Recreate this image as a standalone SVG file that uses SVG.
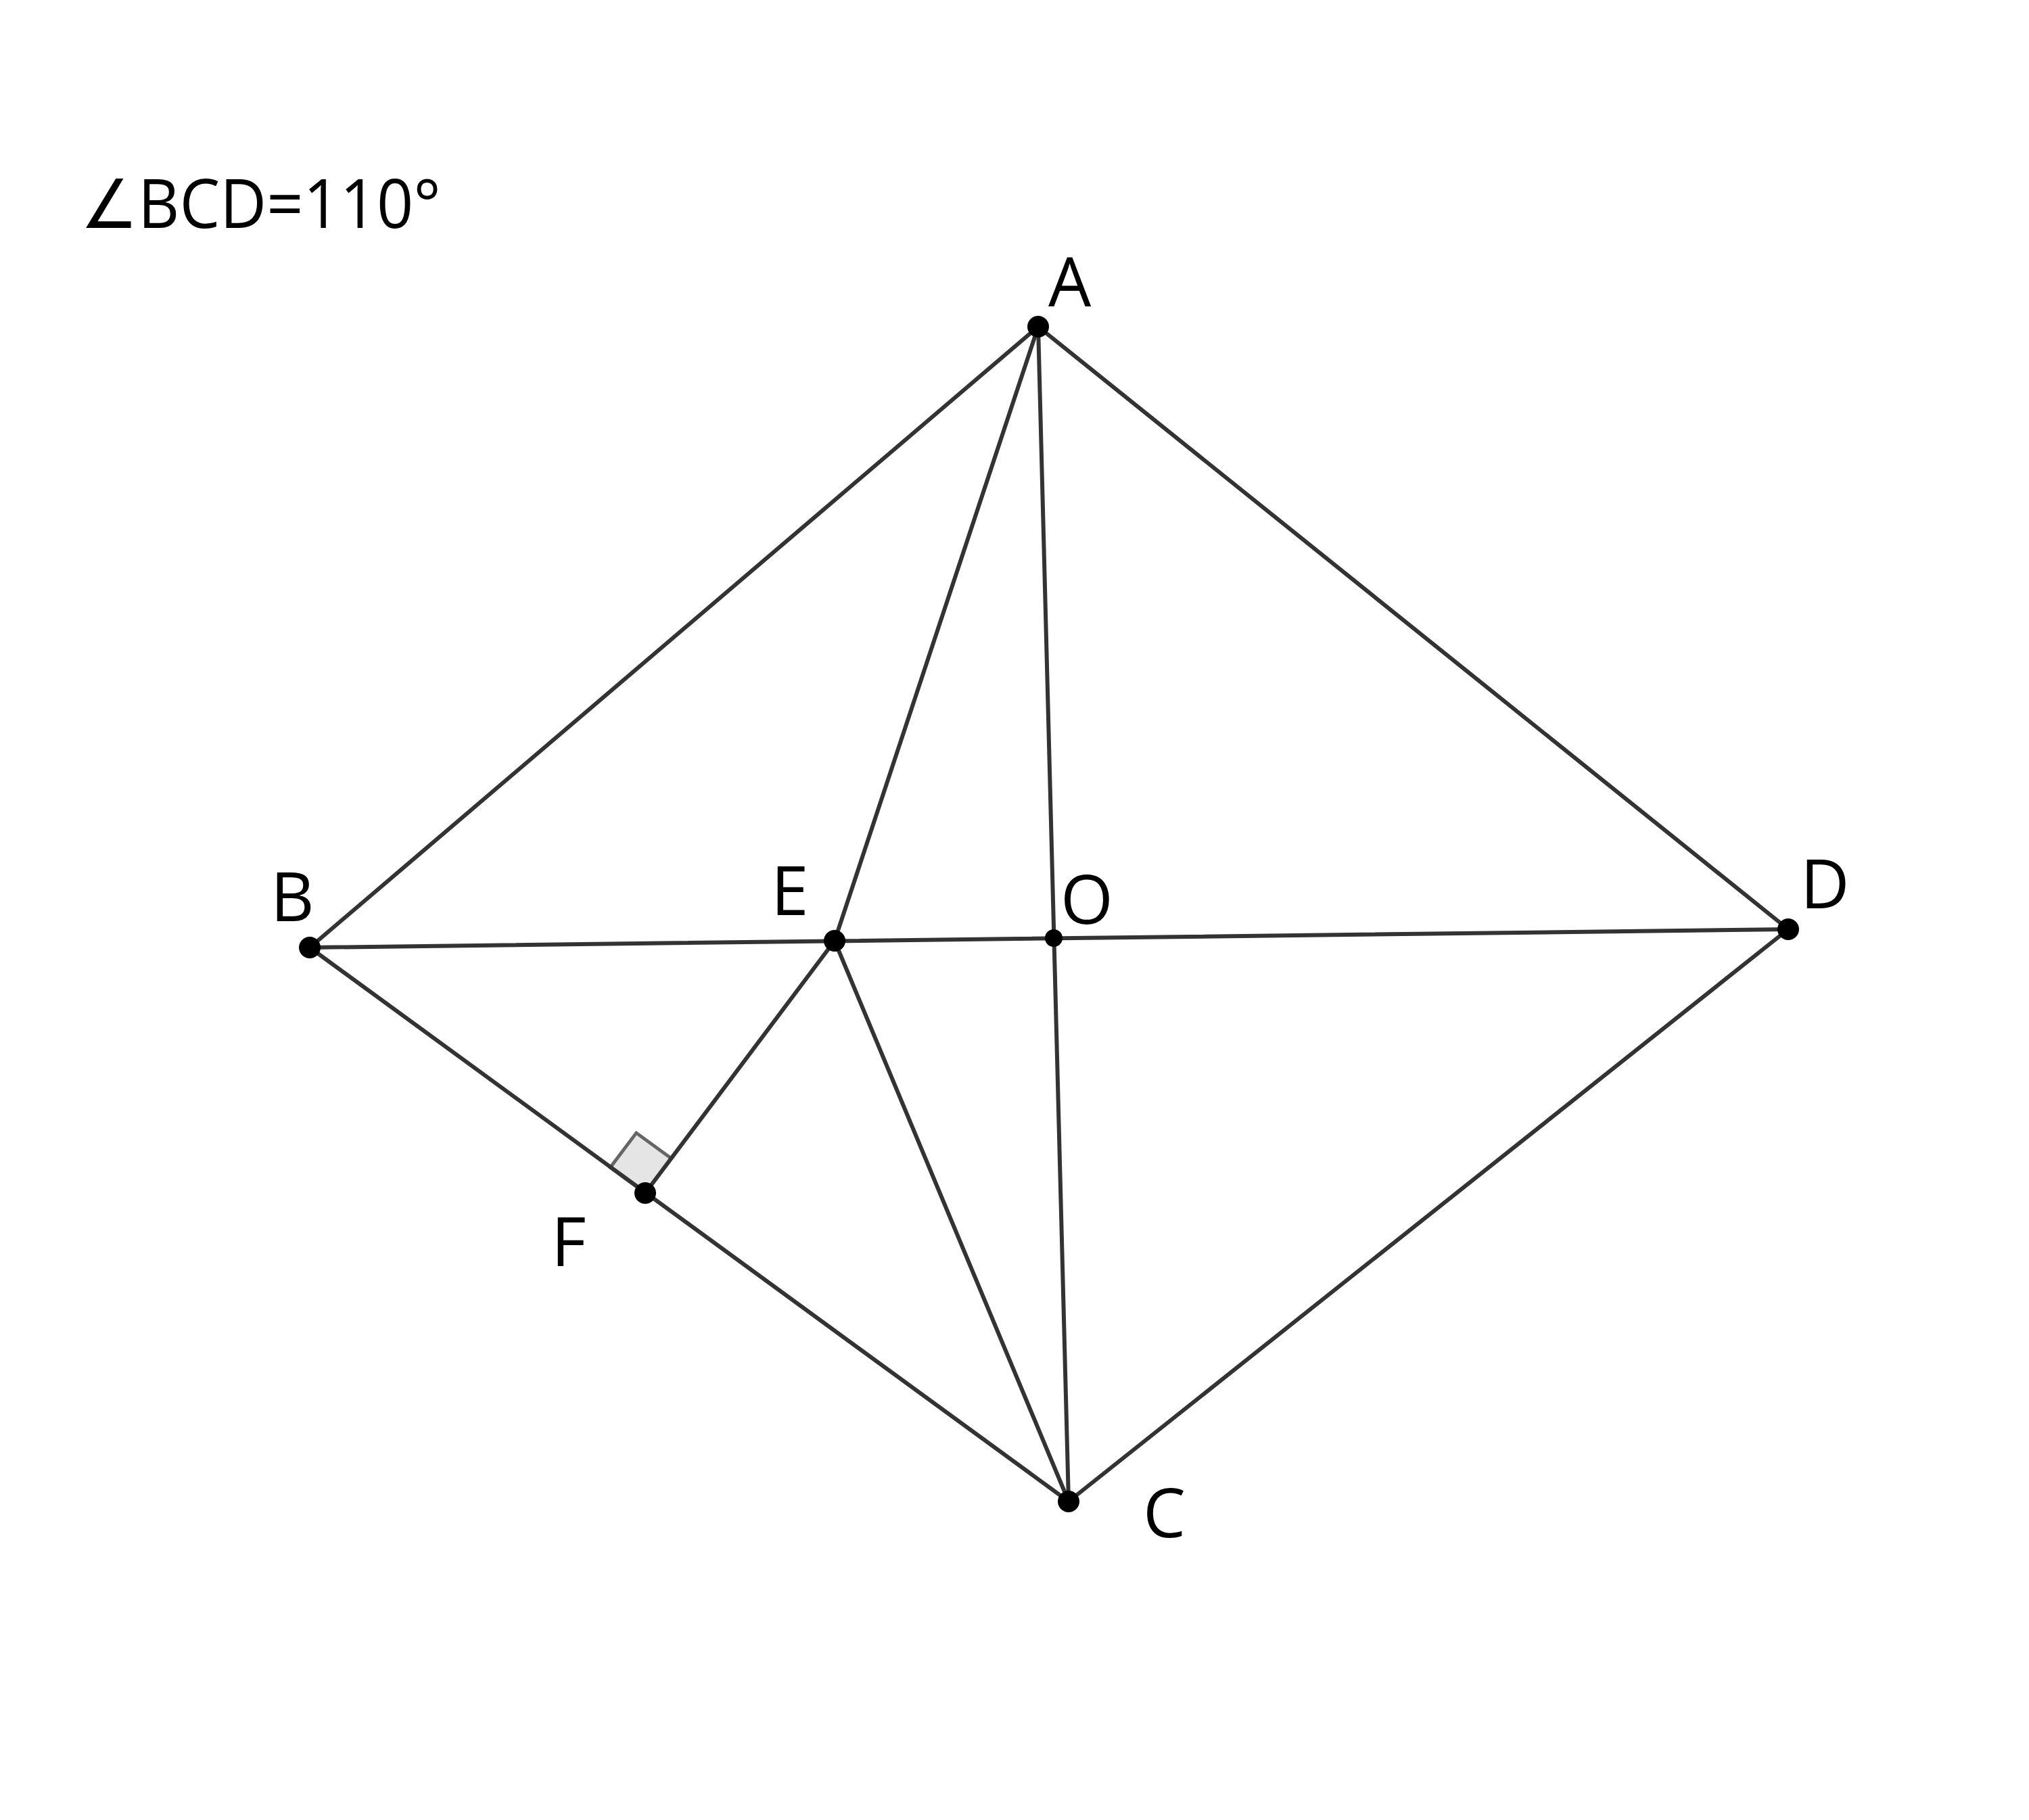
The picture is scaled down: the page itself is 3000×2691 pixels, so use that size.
<svg xmlns="http://www.w3.org/2000/svg" width="3000" height="2691" viewBox="0 0 3000 2691">
<style>
.ln{stroke:#333333;stroke-width:6;fill:none;stroke-linecap:round}
.pt{fill:#000000}
.lb{font-family:"Open Sans","Noto Sans","DejaVu Sans",sans-serif;font-size:100px;fill:#000000}
.ra{fill:#e5e5e5;stroke:#666666;stroke-width:5;stroke-linejoin:miter}
</style>
<rect x="0" y="0" width="3000" height="2691" fill="#ffffff"/>
<text class="lb" x="119" y="337" textLength="533" lengthAdjust="spacingAndGlyphs">∠BCD=110°</text>
<g id="right-angle">
<polygon class="ra" points="954,1764 902.3,1726.3 940.8,1675.1 992.5,1712.8"/>
</g>
<g id="connectors">
<line class="ln" x1="1535" y1="483" x2="458" y2="1401"/>
<line class="ln" x1="1535" y1="483" x2="2644" y2="1374"/>
<line class="ln" x1="458" y1="1401" x2="2644" y2="1374"/>
<line class="ln" x1="458" y1="1401" x2="1580" y2="2220"/>
<line class="ln" x1="2644" y1="1374" x2="1580" y2="2220"/>
<line class="ln" x1="1535" y1="483" x2="1234" y2="1391"/>
<line class="ln" x1="1535" y1="483" x2="1580" y2="2220"/>
<line class="ln" x1="1234" y1="1391" x2="1580" y2="2220"/>
<line class="ln" x1="1234" y1="1391" x2="954" y2="1764"/>
</g>
<g id="node-A"><circle class="pt" cx="1535" cy="483" r="16"/><text class="lb" x="1550" y="453">A</text></g>
<g id="node-B"><circle class="pt" cx="458" cy="1401" r="16"/><text class="lb" x="400" y="1362">B</text></g>
<g id="node-D"><circle class="pt" cx="2644" cy="1374" r="16"/><text class="lb" x="2662" y="1343">D</text></g>
<g id="node-C"><circle class="pt" cx="1580" cy="2220" r="16"/><text class="lb" x="1690" y="2273">C</text></g>
<g id="node-E"><circle class="pt" cx="1234" cy="1391" r="16"/><text class="lb" x="1140" y="1353">E</text></g>
<g id="node-O"><circle class="pt" cx="1558" cy="1387" r="13"/><text class="lb" x="1568" y="1366">O</text></g>
<g id="node-F"><circle class="pt" cx="954" cy="1764" r="16"/><text class="lb" x="815" y="1872">F</text></g>
</svg>
